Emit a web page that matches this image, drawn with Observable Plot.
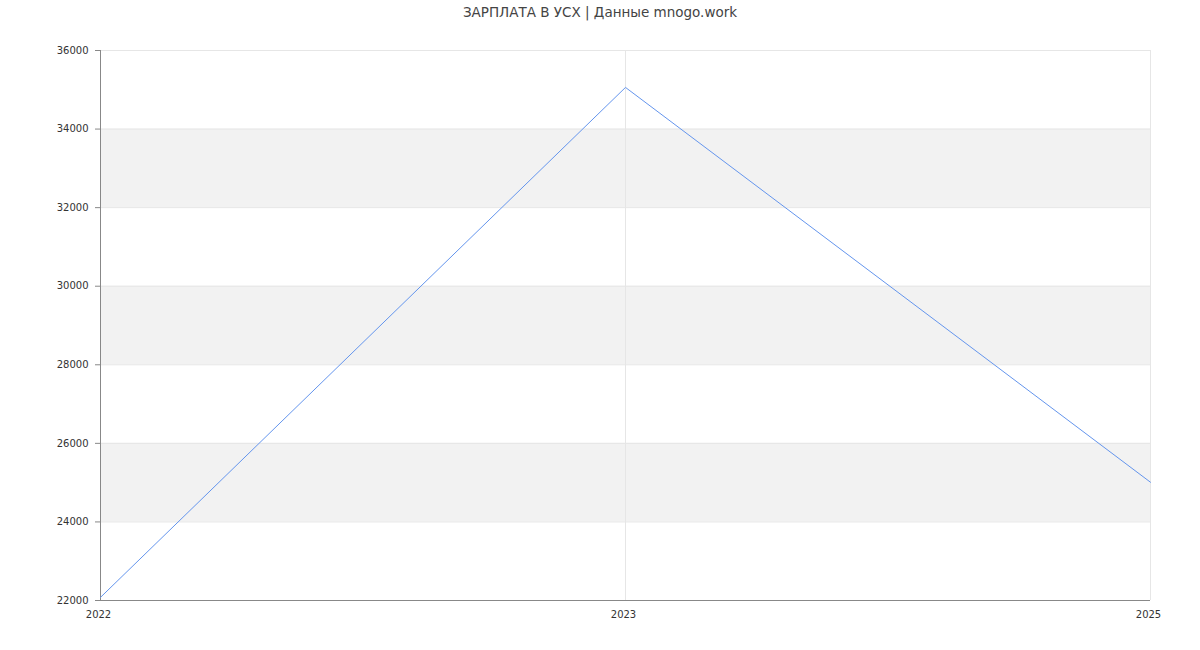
<!DOCTYPE html>
<html>
<head>
<meta charset="utf-8">
<script src="https://cdn.jsdelivr.net/npm/d3@7"></script>
<script src="https://cdn.jsdelivr.net/npm/@observablehq/plot@0.6"></script>
<style>
  body { margin: 0; background: #fff; font-family: "DejaVu Sans", sans-serif; }
  #title { height: 24px; line-height: 24px; text-align: center; font-size: 13.5px; color: #444; }
</style>
</head>
<body>
<div id="title">ЗАРПЛАТА В УСХ | Данные mnogo.work</div>
<div id="chart"></div>
<script>
const years = ["2022", "2023", "2025"];
const salaries = [22080, 35060, 25010];
const yTicks = [22000, 24000, 26000, 28000, 30000, 32000, 34000, 36000];
const bandLows = [24000, 28000, 32000];
const bandHighs = [26000, 30000, 34000];

const data = years.map((y, i) => ({year: y, value: salaries[i]}));
const bands = bandLows.map((lo, i) => ({lo, hi: bandHighs[i]}));

const chart = Plot.plot({
  width: 1200,
  height: 626,
  marginTop: 26,
  marginBottom: 50,
  marginLeft: 100,
  marginRight: 50,
  style: {fontFamily: "DejaVu Sans, sans-serif", fontSize: "10px", color: "#333", background: "#fff"},
  x: {type: "point", domain: years, padding: 0, label: null},
  y: {domain: [22000, 36000], label: null},
  marks: [
    Plot.rect(bands, {y1: "lo", y2: "hi", fill: "#f2f2f2"}),
    Plot.ruleY(yTicks, {stroke: "#e6e6e6", strokeWidth: 1}),
    Plot.ruleX(years.slice(1), {stroke: "#e6e6e6", strokeWidth: 1}),
    Plot.axisY({ticks: yTicks, tickSize: 5, tickPadding: 7, tickFormat: d => String(d), label: null, stroke: "#888", fill: "#333"}),
    Plot.axisX({tickSize: 0, tickPadding: 10, dx: -2, label: null, fill: "#333"}),
    Plot.ruleX([years[0]], {stroke: "#888"}),
    Plot.ruleY([22000], {stroke: "#888"}),
    Plot.line(data, {x: "year", y: "value", stroke: "#6495ed", strokeWidth: 1})
  ]
});
document.getElementById("chart").appendChild(chart);
</script>
</body>
</html>
